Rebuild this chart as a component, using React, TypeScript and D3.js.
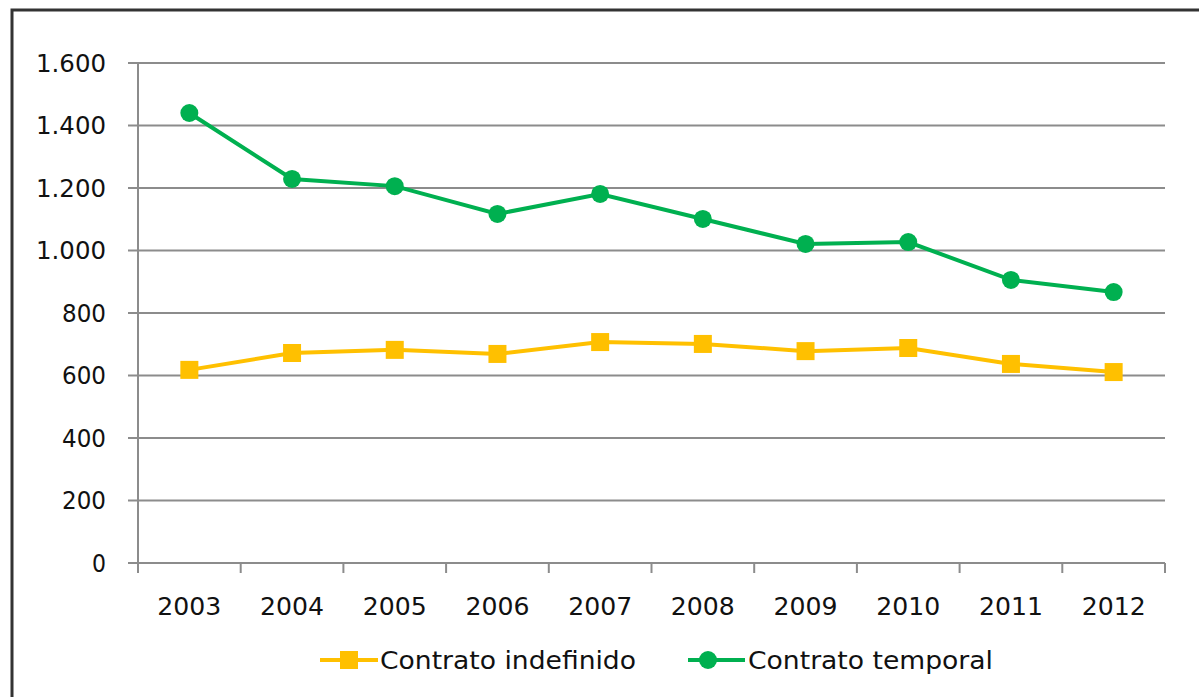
import React from "react";
import * as d3 from "d3";

const years = ["2003", "2004", "2005", "2006", "2007", "2008", "2009", "2010", "2011", "2012"];
const indefinido = [618, 672, 682, 669, 707, 701, 678, 688, 637, 611];
const temporal = [1440, 1229, 1206, 1117, 1181, 1101, 1021, 1027, 906, 867];
const yTicks = [0, 200, 400, 600, 800, 1000, 1200, 1400, 1600];
const seriesNames = ["Contrato indefinido", "Contrato temporal"];

const W = 1199, H = 697;
const left = 138, right = 1165, top = 63, bottom = 563;
const FONT = "DejaVu Sans, Verdana, sans-serif";
const YELLOW = "#FFC000";
const GREEN = "#00B050";
const GRID = "#8c8c8c";

const fmt = (v: number) => d3.format(",")(v).replace(/,/g, ".");

export default function App() {
  const x = d3.scaleBand<string>().domain(years).range([left, right]).padding(0);
  const y = d3.scaleLinear().domain([0, 1600]).range([bottom, top]);
  const cx = (d: string) => (x(d) as number) + x.bandwidth() / 2;
  const line = d3.line<number>().x((_, i) => cx(years[i])).y((v) => y(v));

  return (
    <svg width={W} height={H} style={{ position: "absolute", left: 0, top: 0, background: "#fff" }}>
      <rect x={12} y={10} width={1200} height={700} fill="#fff" stroke="#333" strokeWidth={3} />
      {yTicks.map((t) => (
        <g key={t}>
          <line x1={128} x2={right} y1={y(t)} y2={y(t)} stroke={GRID} strokeWidth={2} />
          <text x={106} y={y(t)} dy="0.36em" textAnchor="end" fontFamily={FONT} fontSize={24} fill="#111" textLength={t >= 1000 ? 70 : t > 0 ? 44 : 14} lengthAdjust="spacingAndGlyphs">
            {fmt(t)}
          </text>
        </g>
      ))}
      <line x1={left} x2={left} y1={top} y2={bottom + 10} stroke={GRID} strokeWidth={2} />
      {years.map((yr) => (
        <line key={"t" + yr} x1={(x(yr) as number) + x.bandwidth()} x2={(x(yr) as number) + x.bandwidth()} y1={bottom} y2={bottom + 10} stroke={GRID} strokeWidth={2} />
      ))}
      {years.map((yr) => (
        <text key={yr} x={cx(yr)} y={615} textAnchor="middle" fontFamily={FONT} fontSize={24} fill="#111" textLength={64} lengthAdjust="spacingAndGlyphs">
          {yr}
        </text>
      ))}
      <path d={line(indefinido) || ""} fill="none" stroke={YELLOW} strokeWidth={4} />
      {indefinido.map((v, i) => (
        <rect key={"s" + i} x={cx(years[i]) - 9} y={y(v) - 9} width={18} height={18} fill={YELLOW} />
      ))}
      <path d={line(temporal) || ""} fill="none" stroke={GREEN} strokeWidth={4} />
      {temporal.map((v, i) => (
        <ellipse key={"c" + i} cx={cx(years[i])} cy={y(v)} rx={9} ry={9} fill={GREEN} />
      ))}
      {/* legend */}
      <g>
        <line x1={320} x2={378} y1={660} y2={660} stroke={YELLOW} strokeWidth={4} />
        <rect x={340} y={651} width={18} height={18} fill={YELLOW} />
        <text x={380} y={660} dy="0.36em" fontFamily={FONT} fontSize={24} fill="#111" textLength={256} lengthAdjust="spacingAndGlyphs">
          {seriesNames[0]}
        </text>
        <line x1={688} x2={745} y1={660} y2={660} stroke={GREEN} strokeWidth={4} />
        <ellipse cx={708} cy={660} rx={9} ry={9} fill={GREEN} />
        <text x={748} y={660} dy="0.36em" fontFamily={FONT} fontSize={24} fill="#111" textLength={245} lengthAdjust="spacingAndGlyphs">
          {seriesNames[1]}
        </text>
      </g>
    </svg>
  );
}
